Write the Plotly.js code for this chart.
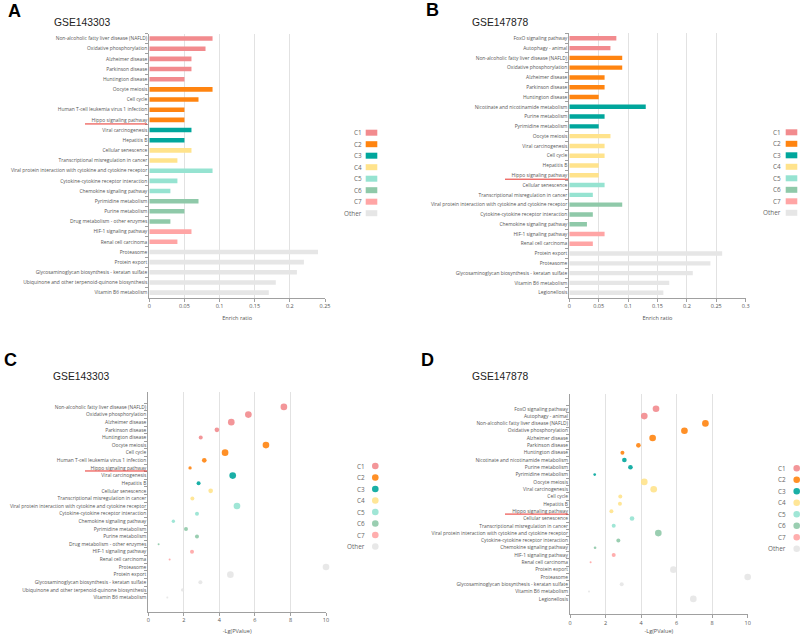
<!DOCTYPE html>
<html>
<head>
<meta charset="utf-8">
<script src="https://cdn.plot.ly/plotly-3.0.1.min.js"></script>
<style>html,body{margin:0;padding:0;background:#fff}#chart{width:800px;height:635px}</style>
</head>
<body>
<div id="chart"></div>
<script>
// ---------------- DATA ----------------
const groupNames = ['C1','C2','C3','C4','C5','C6','C7','Other'];
const groupColors = ['#F28B8E','#FF8410','#00A69C','#FFE38C','#96E3D1','#8FC9A9','#FFA5A5','#E6E6E6'];

// GSE143303 pathways (panels A and C)
const pathways143303 = [
  'Non-alcoholic fatty liver disease (NAFLD)','Oxidative phosphorylation','Alzheimer disease',
  'Parkinson disease','Huntington disease','Oocyte meiosis','Cell cycle',
  'Human T-cell leukemia virus 1 infection','Hippo signaling pathway','Viral carcinogenesis',
  'Hepatitis B','Cellular senescence','Transcriptional misregulation in cancer',
  'Viral protein interaction with cytokine and cytokine receptor','Cytokine-cytokine receptor interaction',
  'Chemokine signaling pathway','Pyrimidine metabolism','Purine metabolism',
  'Drug metabolism - other enzymes','HIF-1 signaling pathway','Renal cell carcinoma',
  'Proteasome','Protein export','Glycosaminoglycan biosynthesis - keratan sulfate',
  'Ubiquinone and other terpenoid-quinone biosynthesis','Vitamin B6 metabolism'
];
const cluster143303 = ['C1','C1','C1','C1','C1','C2','C2','C2','C2','C3','C3','C4','C4',
  'C5','C5','C5','C6','C6','C6','C7','C7','Other','Other','Other','Other','Other'];
const enrichRatio143303 = [0.09,0.08,0.06,0.06,0.05,0.09,0.07,0.05,0.05,0.06,0.05,0.06,0.04,
  0.09,0.04,0.03,0.07,0.05,0.03,0.06,0.04,0.24,0.22,0.21,0.18,0.17];
const negLogP143303 = [7.63,5.63,4.67,3.86,2.95,6.62,4.32,3.15,2.35,4.75,2.83,3.51,2.48,
  4.99,2.74,1.41,2.12,2.74,0.58,2.46,1.20,10.0,4.62,2.93,1.93,1.07];
const geneCount143303 = [10,10,10,7,6,10,10,7,5,10,6,7,6,10,6,5,6,6,3,6,3,10,10,6,5,3];

// GSE147878 pathways (panels B and D)
const pathways147878 = [
  'FoxO signaling pathway','Autophagy - animal','Non-alcoholic fatty liver disease (NAFLD)',
  'Oxidative phosphorylation','Alzheimer disease','Parkinson disease','Huntington disease',
  'Nicotinate and nicotinamide metabolism','Purine metabolism','Pyrimidine metabolism',
  'Oocyte meiosis','Viral carcinogenesis','Cell cycle','Hepatitis B','Hippo signaling pathway',
  'Cellular senescence','Transcriptional misregulation in cancer',
  'Viral protein interaction with cytokine and cytokine receptor','Cytokine-cytokine receptor interaction',
  'Chemokine signaling pathway','HIF-1 signaling pathway','Renal cell carcinoma',
  'Protein export','Proteasome','Glycosaminoglycan biosynthesis - keratan sulfate',
  'Vitamin B6 metabolism','Legionellosis'
];
const cluster147878 = ['C1','C1','C2','C2','C2','C2','C2','C3','C3','C3','C4','C4','C4','C4','C4',
  'C5','C5','C6','C6','C6','C7','C7','Other','Other','Other','Other','Other'];
const enrichRatio147878 = [0.08,0.07,0.09,0.09,0.06,0.06,0.05,0.13,0.06,0.05,0.07,0.06,0.06,0.05,0.05,
  0.06,0.04,0.09,0.04,0.03,0.06,0.04,0.26,0.24,0.21,0.17,0.16];
const negLogP147878 = [4.84,4.18,7.62,6.44,4.65,3.85,2.95,3.06,3.40,1.39,4.18,4.71,2.83,2.81,2.33,
  3.49,2.46,4.97,2.72,1.41,2.46,1.16,5.82,10.0,2.91,1.07,6.94];
const geneCount147878 = [10,10,10,10,10,7,6,7,7,4,10,10,6,6,6,7,6,10,6,4,6,3,10,10,6,3,10];

const highlightPathway = 'Hippo signaling pathway';

// ---------------- LAYOUT HELPERS ----------------
const W = 800, H = 635;
const FONT = 'Open Sans, Noto Sans, sans-serif';
const TITLEFONT = 'Liberation Sans, Arial, sans-serif';
const px = x => x / W;
const py = y => 1 - y / H;
const colorOf = g => groupColors[groupNames.indexOf(g)];

const panels = [
  {letter:'A', title:'GSE143303', kind:'bar', cats:pathways143303, x:enrichRatio143303, groups:cluster143303,
   xr:[0,0.25], dtick:0.05, xt:'Enrich ratio', dom:[149.3,325], top:33.5, bottom:297.7,
   letterPos:[6,11], titlePos:[51.5,22.5], leg:{textR:363.5, sx:[365.7,377.3], y0:132.7}, ul:[85,147]},
  {letter:'B', title:'GSE147878', kind:'bar', cats:pathways147878, x:enrichRatio147878, groups:cluster147878,
   xr:[0,0.3], dtick:0.05, xt:'Enrich ratio', dom:[569.3,745.7], top:33.4, bottom:297.6,
   letterPos:[424,10], titlePos:[470,22.5], leg:{textR:783.3, sx:[785.7,797.3], y0:132.3}, ul:[505,568]},
  {letter:'C', title:'GSE143303', kind:'dot', cats:pathways143303, x:negLogP143303, size:geneCount143303, groups:cluster143303,
   xr:[0,10], dtick:2, xt:'-Lg(PValue)', dom:[148.3,326], top:391.8, bottom:611.5,
   letterPos:[2,360], titlePos:[51,376], leg:{textR:367, cx:375.3, y0:466}, ul:[85,147]},
  {letter:'D', title:'GSE147878', kind:'dot', cats:pathways147878, x:negLogP147878, size:geneCount147878, groups:cluster147878,
   xr:[0,10], dtick:2, xt:'-Lg(PValue)', dom:[570,747.7], top:393.6, bottom:614.1,
   letterPos:[419,359.5], titlePos:[470,376], leg:{textR:787.6, cx:796.7, y0:468.3}, ul:[505,568]}
];

const traces = [];
const layout = {
  width: W, height: H, margin:{l:0,r:0,t:0,b:0}, paper_bgcolor:'#fff', plot_bgcolor:'#fff',
  showlegend:false, annotations:[], shapes:[], font:{family:FONT, color:'#555'}
};

panels.forEach((p, i) => {
  const n = i + 1;
  const xa = n === 1 ? 'x' : 'x' + n, ya = n === 1 ? 'y' : 'y' + n;
  const xk = n === 1 ? 'xaxis' : 'xaxis' + n, yk = n === 1 ? 'yaxis' : 'yaxis' + n;
  const colors = p.groups.map(colorOf);
  if (p.kind === 'bar') {
    traces.push({type:'bar', orientation:'h', x:p.x, y:p.cats, xaxis:xa, yaxis:ya,
      marker:{color:colors, line:{width:0}}, width:0.45, hoverinfo:'x+y'});
  } else {
    traces.push({type:'scatter', mode:'markers', x:p.x, y:p.cats, xaxis:xa, yaxis:ya,
      marker:{color:colors, size:p.size, sizemode:'diameter', sizeref:1.5, opacity:0.9, line:{width:0}},
      hoverinfo:'x+y', cliponaxis:false});
  }
  layout[xk] = {
    domain:[px(p.dom[0]), px(p.dom[1])], anchor:ya, range:p.xr, tick0:0, dtick:p.dtick,
    showgrid:true, gridcolor:'#E2E2E2', gridwidth:1, zeroline:false,
    showline:true, linecolor:'#A0A0A0', linewidth:1, ticks:'outside', ticklen:3, tickcolor:'#A0A0A0',
    tickfont:{size:5.5, color:'#555', family:FONT},
    title:{text:p.xt, font:{size:5.6, color:'#555', family:FONT}, standoff:6}, automargin:false, fixedrange:true
  };
  layout[yk] = {
    domain:[py(p.bottom), py(p.top)], anchor:xa, type:'category', autorange:'reversed',
    tickmode:'linear', tick0:0, dtick:1, tickson:'boundaries',
    showgrid:false, zeroline:false, showline:true, linecolor:'#A0A0A0', linewidth:1,
    ticks:'outside', ticklen:3, tickcolor:'#A0A0A0',
    tickfont:{size:4.9, color:'#555', family:FONT}, automargin:false, fixedrange:true
  };
  // panel letter and title
  layout.annotations.push({xref:'paper', yref:'paper', x:px(p.letterPos[0]), y:py(p.letterPos[1]),
    xanchor:'left', yanchor:'middle', showarrow:false, text:'<b>' + p.letter + '</b>',
    font:{size:18, family:TITLEFONT, color:'#000'}});
  layout.annotations.push({xref:'paper', yref:'paper', x:px(p.titlePos[0]), y:py(p.titlePos[1]),
    xanchor:'left', yanchor:'middle', showarrow:false, text:p.title,
    font:{size:10.3, family:TITLEFONT, color:'#222'}});
  // legend
  groupNames.forEach((g, k) => {
    const yy = p.leg.y0 + k * 11.5;
    layout.annotations.push({xref:'paper', yref:'paper', x:px(p.leg.textR), y:py(yy),
      xanchor:'right', yanchor:'middle', showarrow:false, text:g,
      font:{size:6.4, family:FONT, color:'#666'}});
    if (p.kind === 'bar') {
      layout.shapes.push({type:'rect', xref:'paper', yref:'paper', x0:px(p.leg.sx[0]), x1:px(p.leg.sx[1]),
        y0:py(yy - 3), y1:py(yy + 3), fillcolor:groupColors[k], line:{width:0}});
    } else {
      layout.shapes.push({type:'circle', xref:'paper', yref:'paper', x0:px(p.leg.cx - 3.3), x1:px(p.leg.cx + 3.3),
        y0:py(yy - 3.3), y1:py(yy + 3.3), fillcolor:groupColors[k], line:{width:0}, opacity:0.9});
    }
  });
  // underline of the highlighted pathway label
  const hi = p.cats.indexOf(highlightPathway);
  layout.shapes.push({type:'line', xref:'paper', yref:ya, x0:px(p.ul[0]), x1:px(p.ul[1]),
    y0:hi + 0.4, y1:hi + 0.4, line:{color:'#E8302A', width:1}});
});

Plotly.newPlot('chart', traces, layout, {displayModeBar:false, staticPlot:true});
</script>
</body>
</html>
